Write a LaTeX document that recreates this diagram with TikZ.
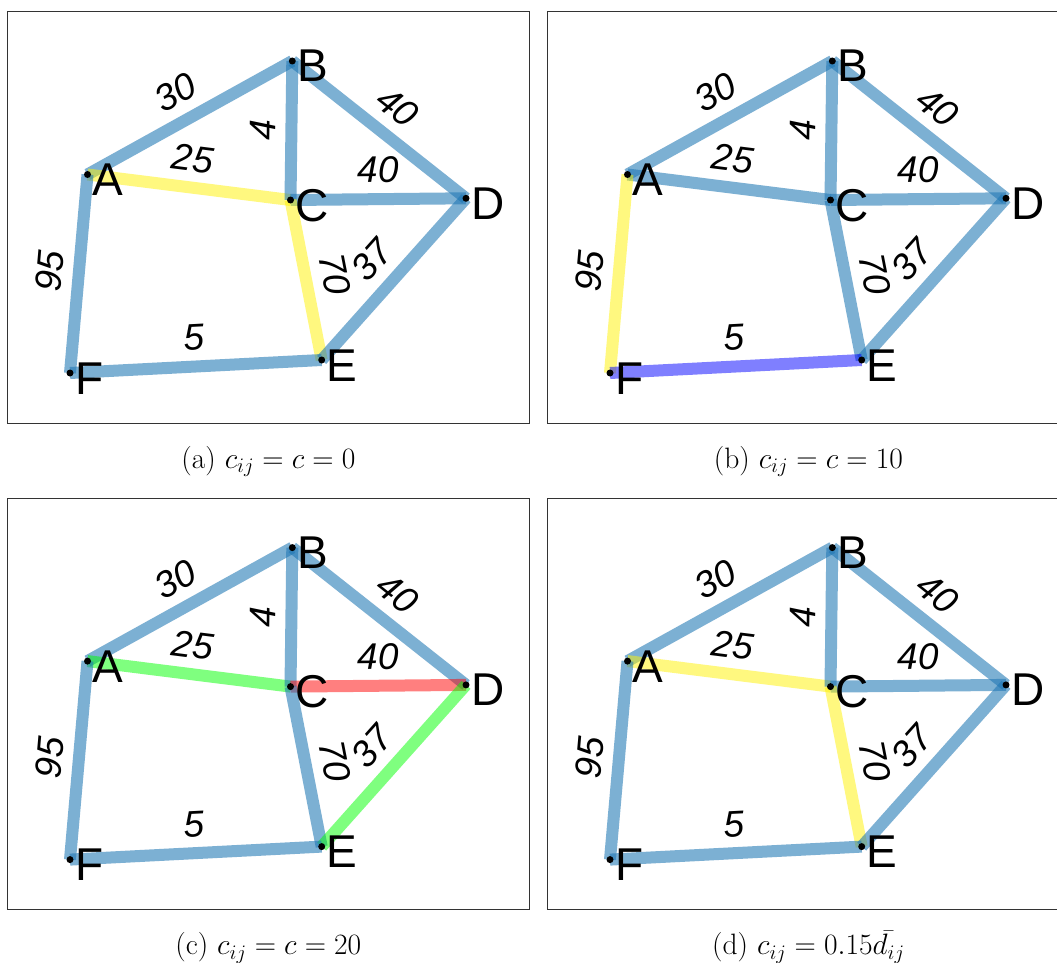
\RequirePackage{fix-cm}
\documentclass[tikz,border=0pt]{standalone}
\usepackage{fontspec}
\newfontfamily\arialf{Liberation Sans}
\definecolor{tabblue}{HTML}{1F77B4}
\tikzset{
  ebase/.style={line width=12pt, line cap=butt},
  eblue/.style={ebase, draw=tabblue, draw opacity=0.58},
  eyel/.style={ebase, draw=yellow, draw opacity=0.5},
  egreen/.style={ebase, draw=green, draw opacity=0.5},
  ered/.style={ebase, draw=red, draw opacity=0.5},
  epurp/.style={ebase, draw=blue, draw opacity=0.5},
  eAB/.style={eblue}, eAC/.style={eblue}, eAF/.style={eblue},
  eBC/.style={eblue}, eBD/.style={eblue}, eCD/.style={eblue},
  eCE/.style={eblue}, eDE/.style={eblue}, eEF/.style={eblue},
  elab/.style={sloped, above=10pt, inner sep=0pt, text=black,
    font=\arialf\itshape\fontsize{37}{40}\selectfont},
  nlab/.style={anchor=base west, inner sep=0pt, xshift=5pt, yshift=-21pt,
    font=\arialf\fontsize{46}{50}\selectfont},
  framebox/.style={draw=gray!40!black, line width=1pt},
  capstyle/.style={anchor=base, inner sep=0pt, font=\fontsize{29.5}{34}\selectfont}
}
\newcommand{\graphbody}{%
  \coordinate (A) at (87.5,174.5);
  \coordinate (B) at (292.3,61);
  \coordinate (C) at (290.5,200);
  \coordinate (D) at (466,198.3);
  \coordinate (E) at (321.7,360);
  \coordinate (F) at (70,373);
  \draw[eAB] (A) -- node[elab] {30} (B);
  \draw[eAC] (A) -- node[elab] {25} (C);
  \draw[eAF] (F) -- node[elab] {95} (A);
  \draw[eBC] (C) -- node[elab] {4} (B);
  \draw[eBD] (B) -- node[elab] {40} (D);
  \draw[eCD] (C) -- node[elab] {40} (D);
  \draw[eCE] (C) -- node[elab] {70} (E);
  \draw[eDE] (E) -- node[elab] {37} (D);
  \draw[eEF] (F) -- node[elab] {5} (E);
  \foreach \n in {A,B,C,D,E,F}{
    \fill[black] (\n) circle (3.5pt);
    \node[nlab] at (\n) {\n};
  }
}
\begin{document}
\begin{tikzpicture}[x=1pt,y=-1pt]
  \clip (0,0) rectangle (1057,963);
  \fill[white] (0,0) rectangle (1057,963);
  % panel frames
  \draw[framebox] (7.5,11.7) rectangle (529.3,423.3);
  \draw[framebox] (547.3,11.7) rectangle (1069.1,423.3);
  \draw[framebox] (7.5,498.3) rectangle (529.3,909.9);
  \draw[framebox] (547.3,498.3) rectangle (1069.1,909.9);
  % (a)
  \begin{scope}[name prefix=a-, eAC/.style={eyel}, eCE/.style={eyel}]
    \graphbody
  \end{scope}
  % (b)
  \begin{scope}[shift={(540,0)}, name prefix=b-, eAF/.style={eyel}, eEF/.style={epurp}]
    \graphbody
  \end{scope}
  % (c)
  \begin{scope}[shift={(0,486.6)}, name prefix=c-, eAC/.style={egreen}, eCD/.style={ered}, eDE/.style={egreen}]
    \graphbody
  \end{scope}
  % (d)
  \begin{scope}[shift={(540,486.6)}, name prefix=d-, eAC/.style={eyel}, eCE/.style={eyel}]
    \graphbody
  \end{scope}
  % captions
  \node[capstyle] (capa) at (268.4,468.3) {(a) $c_{ij}=c=0$};
  \node[capstyle] (capb) at (808.4,468.3) {(b) $c_{ij}=c=10$};
  \node[capstyle] (capc) at (268.4,954.9) {(c) $c_{ij}=c=20$};
  \node[capstyle] (capd) at (808.4,954.9) {(d) $c_{ij}=0.15\bar{d_{ij}}$};
\end{tikzpicture}
\end{document}
